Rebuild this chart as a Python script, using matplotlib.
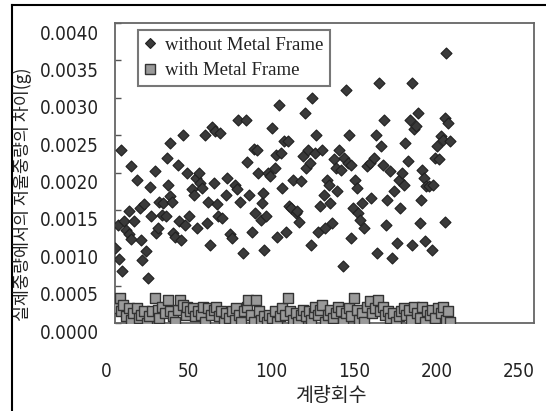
import matplotlib
matplotlib.use("Agg")
import matplotlib.pyplot as plt
from matplotlib.lines import Line2D
from matplotlib import font_manager as fm

# ---------------- data ----------------
without_x = [5.5, 7.0, 7.6, 9.1, 9.7, 10.8, 12.0, 13.7, 13.7, 15.0,
             15.4, 16.9, 19.0, 20.3, 20.9, 21.8, 22.8, 24.3, 25.6, 26.6,
             27.5, 29.6, 30.2, 31.3, 32.3, 33.8, 34.7, 36.1, 37.0, 37.4,
             38.7, 38.7, 39.7, 40.8, 41.8, 43.3, 44.4, 45.4, 46.7, 48.0,
             49.2, 50.3, 52.0, 53.0, 54.5, 55.2, 56.0, 57.1, 58.3, 59.8,
             60.9, 61.9, 63.0, 64.0, 65.1, 66.1, 67.2, 67.8, 69.3, 70.4,
             72.5, 73.5, 75.0, 76.3, 77.8, 79.2, 79.9, 80.9, 83.1, 84.5,
             85.6, 86.6, 88.3, 89.4, 90.4, 91.5, 91.9, 93.6, 94.7, 95.1,
             95.7, 96.8, 97.8, 99.3, 100.6, 102.1, 103.1, 103.6, 104.6, 105.7,
             106.7, 108.0, 108.8, 110.1, 110.5, 112.2, 113.3, 114.8, 115.8, 116.9,
             118.3, 119.4, 120.5, 121.1, 122.1, 123.2, 123.8, 124.9, 126.4, 127.4,
             128.5, 129.5, 130.6, 131.7, 132.7, 133.8, 134.8, 135.9, 136.9, 138.0,
             139.1, 140.1, 141.2, 142.2, 143.3, 144.3, 145.0, 146.5, 147.1, 148.1,
             148.6, 149.6, 150.7, 151.7, 152.8, 153.8, 154.9, 156.0, 158.1, 159.8,
             160.6, 162.3, 163.4, 163.8, 165.5, 166.5, 167.6, 168.0, 169.3, 170.1,
             172.2, 173.3, 174.6, 176.0, 177.1, 178.2, 179.2, 180.3, 181.3, 182.8,
             184.1, 185.1, 185.5, 186.6, 187.7, 188.7, 189.8, 190.8, 191.3, 192.5,
             193.4, 194.0, 195.5, 197.2, 197.8, 198.9, 200.3, 201.4, 202.5, 203.9,
             205.0, 205.2, 206.0, 207.1, 208.2]
without_y = [0.00100, 0.00131, 0.00085, 0.00231, 0.00070, 0.00136, 0.00124, 0.00149, 0.00118, 0.00112,
             0.00209, 0.00136, 0.00190, 0.00153, 0.00111, 0.00084, 0.00158, 0.00096, 0.00060, 0.00181,
             0.00143, 0.00202, 0.00120, 0.00127, 0.00162, 0.00144, 0.00160, 0.00143, 0.00220, 0.00184,
             0.00240, 0.00169, 0.00162, 0.00120, 0.00115, 0.00211, 0.00136, 0.00111, 0.00251, 0.00131,
             0.00200, 0.00142, 0.00178, 0.00171, 0.00193, 0.00127, 0.00200, 0.00186, 0.00180, 0.00251,
             0.00133, 0.00161, 0.00104, 0.00261, 0.00187, 0.00256, 0.00159, 0.00142, 0.00253, 0.00140,
             0.00171, 0.00193, 0.00118, 0.00113, 0.00184, 0.00178, 0.00271, 0.00162, 0.00094, 0.00271,
             0.00214, 0.00171, 0.00122, 0.00232, 0.00147, 0.00231, 0.00200, 0.00138, 0.00160, 0.00173,
             0.00098, 0.00142, 0.00200, 0.00196, 0.00260, 0.00207, 0.00224, 0.00115, 0.00290, 0.00227,
             0.00180, 0.00242, 0.00122, 0.00242, 0.00156, 0.00153, 0.00191, 0.00147, 0.00149, 0.00134,
             0.00189, 0.00222, 0.00280, 0.00207, 0.00231, 0.00213, 0.00104, 0.00300, 0.00227, 0.00251,
             0.00122, 0.00156, 0.00231, 0.00171, 0.00127, 0.00191, 0.00184, 0.00160, 0.00133, 0.00218,
             0.00207, 0.00176, 0.00231, 0.00204, 0.00076, 0.00220, 0.00311, 0.00213, 0.00251, 0.00211,
             0.00113, 0.00153, 0.00191, 0.00180, 0.00147, 0.00138, 0.00160, 0.00127, 0.00209, 0.00213,
             0.00167, 0.00220, 0.00251, 0.00094, 0.00320, 0.00236, 0.00211, 0.00271, 0.00131, 0.00164,
             0.00202, 0.00087, 0.00176, 0.00107, 0.00191, 0.00153, 0.00200, 0.00184, 0.00240, 0.00216,
             0.00271, 0.00104, 0.00320, 0.00258, 0.00262, 0.00280, 0.00133, 0.00164, 0.00204, 0.00193,
             0.00109, 0.00182, 0.00182, 0.00098, 0.00184, 0.00220, 0.00236, 0.00218, 0.00249, 0.00244,
             0.00273, 0.00134, 0.00360, 0.00267, 0.00242]

with_x = [5.5, 8.5, 9.1, 10.1, 12.3, 13.7, 15.0, 16.5, 18.6, 19.7,
          21.3, 22.8, 24.9, 26.0, 28.1, 29.6, 31.3, 32.3, 33.8, 35.5,
          37.6, 38.7, 40.4, 41.8, 43.3, 45.0, 46.5, 48.2, 49.2, 50.9,
          52.4, 54.1, 55.6, 57.3, 58.7, 60.2, 61.9, 63.4, 65.1, 66.6,
          68.3, 69.7, 71.4, 72.9, 74.6, 76.1, 77.8, 78.8, 80.5, 82.0,
          83.5, 85.2, 86.2, 87.7, 89.4, 90.9, 92.6, 94.0, 95.7, 97.2,
          98.9, 100.4, 102.1, 103.6, 105.2, 106.7, 108.4, 109.9, 111.6, 113.1,
          114.8, 116.2, 117.9, 119.4, 121.1, 122.6, 124.3, 125.7, 126.8, 128.5,
          129.5, 131.0, 132.7, 134.2, 135.9, 137.4, 139.1, 140.5, 142.2, 143.7,
          145.4, 146.9, 148.6, 150.0, 151.7, 153.2, 154.9, 156.4, 158.1, 159.6,
          161.2, 162.7, 164.4, 165.9, 167.6, 169.1, 170.8, 172.2, 173.9, 175.4,
          177.1, 178.6, 180.3, 181.7, 183.4, 184.9, 186.6, 188.1, 189.8, 191.3,
          192.9, 194.4, 196.1, 197.6, 199.3, 200.8, 202.5, 203.9, 205.6, 207.1,
          208.2]
with_y = [0.00020, 0.00033, 0.00016, 0.00024, 0.00009, 0.00020, 0.00004, 0.00013, 0.00020, 0.00007,
          0.00011, 0.00016, 0.00000, 0.00009, 0.00016, 0.00033, 0.00018, 0.00007, 0.00022, 0.00013,
          0.00031, 0.00016, 0.00009, 0.00002, 0.00018, 0.00031, 0.00024, 0.00011, 0.00022, 0.00016,
          0.00020, 0.00009, 0.00016, 0.00011, 0.00022, 0.00002, 0.00020, 0.00011, 0.00018, 0.00022,
          0.00009, 0.00016, 0.00002, 0.00013, 0.00007, 0.00016, 0.00004, 0.00020, 0.00011, 0.00002,
          0.00016, 0.00022, 0.00031, 0.00011, 0.00002, 0.00031, 0.00016, 0.00004, 0.00009, 0.00002,
          0.00011, 0.00007, 0.00016, 0.00002, 0.00009, 0.00020, 0.00011, 0.00033, 0.00016, 0.00004,
          0.00013, 0.00002, 0.00011, 0.00018, 0.00009, 0.00016, 0.00004, 0.00013, 0.00022, 0.00011,
          0.00018, 0.00024, 0.00002, 0.00011, 0.00018, 0.00007, 0.00013, 0.00022, 0.00016, 0.00002,
          0.00013, 0.00020, 0.00009, 0.00033, 0.00018, 0.00004, 0.00013, 0.00002, 0.00022, 0.00029,
          0.00013, 0.00020, 0.00031, 0.00016, 0.00022, 0.00011, 0.00016, 0.00007, 0.00013, 0.00002,
          0.00009, 0.00016, 0.00020, 0.00011, 0.00018, 0.00004, 0.00022, 0.00013, 0.00007, 0.00022,
          0.00002, 0.00016, 0.00011, 0.00018, 0.00007, 0.00020, 0.00013, 0.00022, 0.00004, 0.00016,
          0.00002]

x_ticks = [0, 50, 100, 150, 200, 250]
y_ticks = [0.0000, 0.0005, 0.0010, 0.0015, 0.0020, 0.0025, 0.0030, 0.0035, 0.0040]
label_without = "without Metal Frame"
label_with = "with Metal Frame"
x_title = "계량회수"
y_title = "실제중량에서의 저울중량의 차이(g)"

# ---------------- pick a condensed sans for tick labels if available ----------------
def pick_narrow():
    prefs = ["liberation sans narrow", "dejavu sans condensed", "roboto condensed",
             "open sans condensed", "noto sans condensed", "arial narrow"]
    found = {}
    for f in fm.fontManager.ttflist:
        name = f.name.lower()
        fname = f.fname.lower()
        if f.weight not in (400, "normal", "regular") or f.style != "normal":
            continue
        key = None
        if "narrow" in name or "narrow" in fname:
            key = name if "narrow" in name else name + " narrow"
        elif "condensed" in fname.replace("semicondensed", "") or f.stretch == "condensed":
            key = name + " condensed"
        if key:
            found.setdefault(key, f.fname)
    for p in prefs:
        if p in found:
            return fm.FontProperties(fname=found[p], size=13.5), True
    if found:
        return fm.FontProperties(fname=list(found.values())[0], size=13.5), True
    return fm.FontProperties(family=["Liberation Sans", "DejaVu Sans"], size=12.5), False

tick_fp, narrow = pick_narrow()

# ---------------- figure ----------------
W, H = 546, 411
fig = plt.figure(figsize=(W / 100, H / 100), dpi=100)
fig.patch.set_facecolor("white")

def fx(px):
    return px / W

def fy(py):
    return 1 - py / H

# main plot axes (px: left 115, right 534, top 23, bottom 323)
ax = fig.add_axes([fx(115), fy(323), fx(534) - fx(115), fy(23) - fy(323)])
ax.set_xlim(5.45, 259.1)
ax.set_ylim(0, 0.004)
ax.set_xticks([])
ax.set_yticks(y_ticks)
ax.tick_params(axis="y", direction="in", length=4, width=1, color="#555555",
               labelleft=False)
for s in ax.spines.values():
    s.set_color("#666666")
    s.set_linewidth(1.3)
ax.patch.set_alpha(0)

ax.scatter(without_x, without_y, marker="D", s=5.6 ** 2, facecolor="#3a3a3a",
           edgecolor="#202020", linewidths=0.8, zorder=3)
ax.scatter(with_x, with_y, marker="s", s=7.4 ** 2, facecolor="#9a9a9a",
           edgecolor="#333333", linewidths=1.0, zorder=4)

# tick label axes (slightly offset from the plot frame as in the reference)
lab = fig.add_axes([fx(106), fy(331), fx(519) - fx(106), fy(32) - fy(331)])
lab.set_xlim(0, 250)
lab.set_ylim(0, 0.004)
lab.set_xticks(x_ticks)
lab.set_yticks(y_ticks)
lab.set_xticklabels([str(v) for v in x_ticks], fontproperties=tick_fp)
lab.set_yticklabels([f"{v:.4f}" for v in y_ticks], fontproperties=tick_fp)
lab.tick_params(length=0, pad=5, colors="#222222")
lab.tick_params(axis="x", pad=22)
for s in lab.spines.values():
    s.set_visible(False)
lab.patch.set_alpha(0)

# legend
handles = [
    Line2D([], [], ls="none", marker="D", markersize=5.6, markerfacecolor="#3a3a3a",
           markeredgecolor="#202020", markeredgewidth=0.8),
    Line2D([], [], ls="none", marker="s", markersize=7, markerfacecolor="#9a9a9a",
           markeredgecolor="#333333", markeredgewidth=1.0),
]
leg = fig.legend(handles, [label_without, label_with], loc="upper left",
                 bbox_to_anchor=(fx(138), fy(30)), borderaxespad=0,
                 prop={"family": ["Liberation Serif", "DejaVu Serif"], "size": 13.5},
                 frameon=True, fancybox=False, handlelength=0.6, handletextpad=0.5,
                 borderpad=0.35, labelspacing=0.45, edgecolor="#555555")
leg.get_frame().set_linewidth(1.5)
for t in leg.get_texts():
    t.set_color("#222222")

# axis titles
fig.text(fx(331), fy(395), x_title, ha="center", va="center", fontsize=14,
         family=["Noto Sans CJK KR", "DejaVu Sans"], color="#222222")
fig.text(fx(23), fy(194), y_title, ha="center", va="center", rotation=90,
         fontsize=12.5, family=["Noto Sans CJK KR", "DejaVu Sans"], color="#222222")

# outer frame (left and top lines of the cropped figure border)
fig.add_artist(Line2D([fx(12), fx(12)], [fy(5), 0], color="black", lw=1.5,
                      transform=fig.transFigure))
fig.add_artist(Line2D([fx(12), 1], [fy(5), fy(5)], color="black", lw=1.5,
                      transform=fig.transFigure))

fig.savefig("out.png", dpi=100)
